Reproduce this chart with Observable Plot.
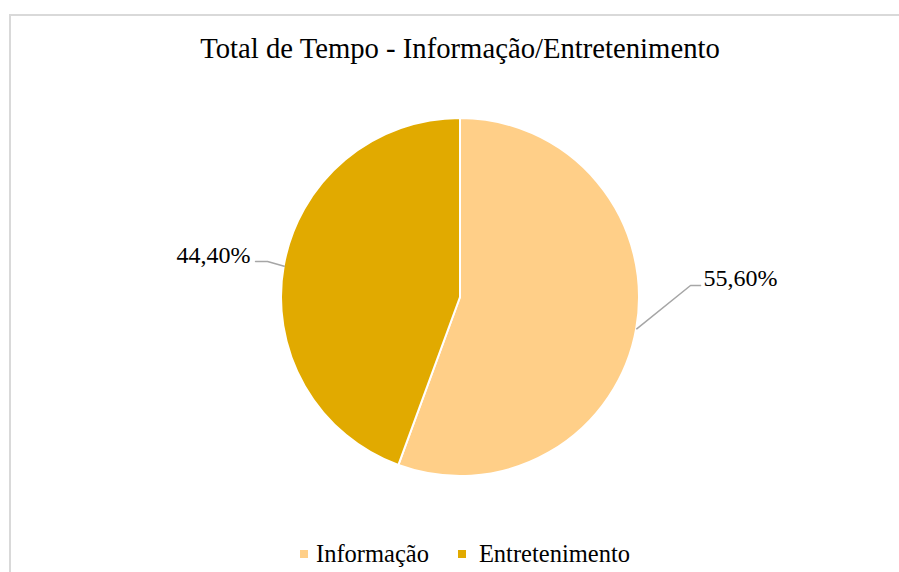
<!DOCTYPE html>
<html>
<head>
<meta charset="utf-8">
<script src="https://cdn.jsdelivr.net/npm/d3@7"></script>
<script src="https://cdn.jsdelivr.net/npm/@observablehq/plot@0.6"></script>
<style>
  html, body { margin: 0; padding: 0; background: #fff; }
  #chart { position: relative; width: 899px; height: 572px; overflow: hidden; font-family: "Liberation Serif", "Times New Roman", serif; color: #000; }
  #frame { position: absolute; left: 9px; top: 14px; width: 920px; height: 600px; border: 2px solid #d9d9d9; box-sizing: border-box; pointer-events: none; }
  #title { position: relative; height: 75px; box-sizing: border-box; padding-top: 34px; font-size: 28.7px; line-height: 28px; text-align: center; padding-left: 21px; white-space: nowrap; }
  #plot svg { display: block; overflow: visible; }
  #legend { height: 52px; box-sizing: border-box; padding-top: 15px; padding-left: 300px; display: flex; align-items: center; font-size: 24.5px; line-height: 24px; }
  #legend .item { display: flex; align-items: center; }
  #legend .sw { width: 8px; height: 8px; }
</style>
</head>
<body>
<div id="chart">
  <div id="frame"></div>
  <div id="title"></div>
  <div id="plot"></div>
  <div id="legend"></div>
</div>
<script>
// ---- data ----
const title = "Total de Tempo - Informação/Entretenimento";
const categories = ["Informação", "Entretenimento"];
const shares = [55.6, 44.4];
const shareLabels = ["55,60%", "44,40%"];

// ---- styles ----
const colors = ["#FFCF88", "#E1AA00"];

// ---- layout (unit-circle coordinates for label placement) ----
const labelLayout = {
  "Informação": { elbow: [1.285, 0.067], end: [1.341, 0.067], text: [1.358, 0.107], anchor: "start" },
  "Entretenimento": { elbow: [-1.078, 0.201], end: [-1.145, 0.201], text: [-1.173, 0.235], anchor: "end" }
};
const legendGaps = [{ sw: 8, after: 29 }, { sw: 13, after: 0 }];

const data = categories.map((c, i) => ({ category: c, value: shares[i], label: shareLabels[i] }));
const arcs = d3.pie().sort(null).value(d => d.value)(data);
arcs.forEach(a => { a.mid = (a.startAngle + a.endAngle) / 2; });

const colorScale = Plot.scale({ color: { type: "ordinal", domain: categories, range: colors } });

// leader lines
const leaders = [];
arcs.forEach(a => {
  const L = labelLayout[a.data.category];
  leaders.push({ category: a.data.category, x: Math.sin(a.mid), y: Math.cos(a.mid) });
  leaders.push({ category: a.data.category, x: L.elbow[0], y: L.elbow[1] });
  leaders.push({ category: a.data.category, x: L.end[0], y: L.end[1] });
});
const labels = arcs.map(a => {
  const L = labelLayout[a.data.category];
  return { category: a.data.category, label: a.data.label, x: L.text[0], y: L.text[1], anchor: L.anchor };
});

function pieSlices(index, scales) {
  const cx = scales.x(0), cy = scales.y(0), r = scales.x(1) - cx;
  const arc = d3.arc().innerRadius(0).outerRadius(r);
  const g = d3.create("svg:g").attr("transform", `translate(${cx},${cy})`);
  g.selectAll("path").data(arcs).join("path")
    .attr("d", arc)
    .attr("fill", d => colorScale.apply(d.data.category))
    .attr("stroke", "#fff")
    .attr("stroke-width", 2)
    .attr("stroke-linejoin", "round");
  return g.node();
}

const cy = 222, r = 179, cx = 460;
const chart = Plot.plot({
  width: 899,
  height: 445,
  margin: 0,
  style: { background: "transparent", fontFamily: "'Liberation Serif', 'Times New Roman', serif", overflow: "visible" },
  x: { domain: [-1, 1], range: [cx - r, cx + r], axis: null },
  y: { domain: [-1, 1], range: [cy + r, cy - r], axis: null },
  marks: [
    pieSlices,
    Plot.line(leaders, { x: "x", y: "y", z: "category", stroke: "#a6a6a6", strokeWidth: 1.5 }),
    Plot.text(labels.filter(d => d.anchor === "start"), { x: "x", y: "y", text: "label", textAnchor: "start", fontSize: 24, fill: "#000" }),
    Plot.text(labels.filter(d => d.anchor === "end"), { x: "x", y: "y", text: "label", textAnchor: "end", fontSize: 24, fill: "#000" })
  ]
});
document.getElementById("plot").appendChild(chart);
document.getElementById("title").textContent = title;

const legend = d3.select("#legend");
const items = legend.selectAll(".item").data(categories).join("div").attr("class", "item")
  .style("margin-right", (d, i) => legendGaps[i].after + "px");
items.append("div").attr("class", "sw")
  .style("background", d => colorScale.apply(d))
  .style("margin-right", (d, i) => legendGaps[i].sw + "px");
items.append("span").text(d => d);
</script>
</body>
</html>
